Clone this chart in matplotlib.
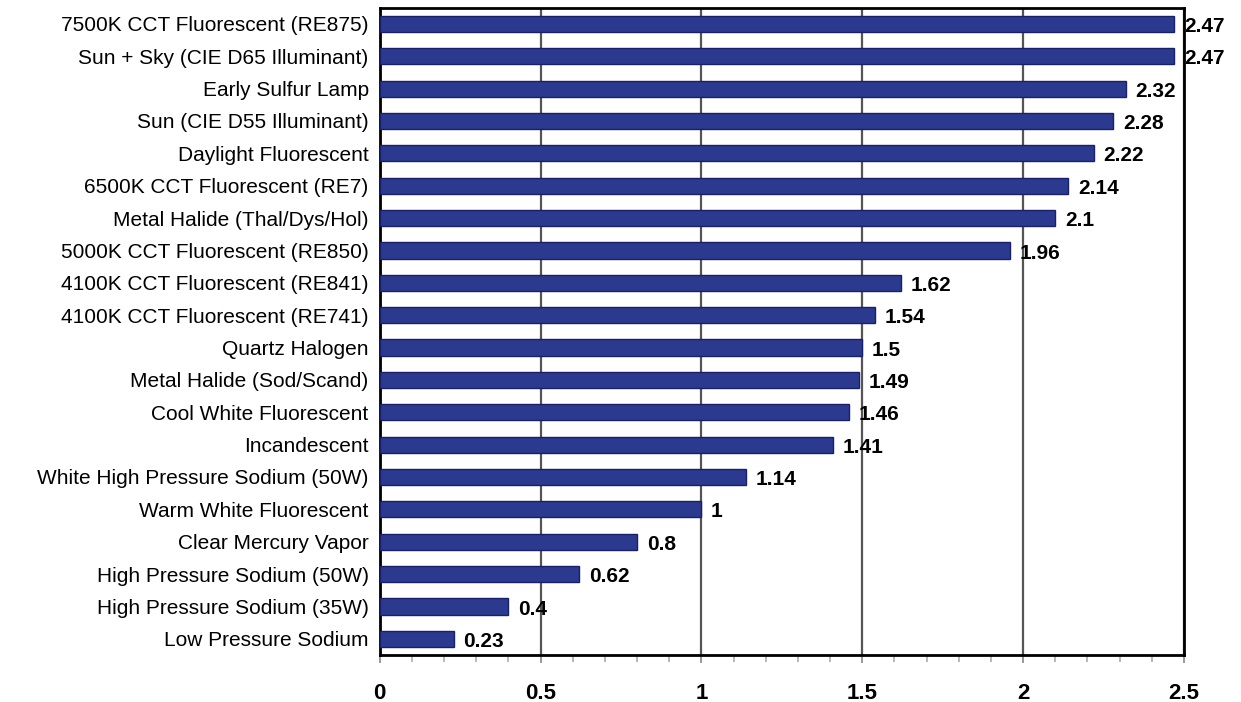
import matplotlib
matplotlib.use('Agg')
import matplotlib.pyplot as plt
from matplotlib.ticker import MultipleLocator

labels = ['7500K CCT Fluorescent (RE875)', 'Sun + Sky (CIE D65 Illuminant)', 'Early Sulfur Lamp',
          'Sun (CIE D55 Illuminant)', 'Daylight Fluorescent', '6500K CCT Fluorescent (RE7)',
          'Metal Halide (Thal/Dys/Hol)', '5000K CCT Fluorescent (RE850)', '4100K CCT Fluorescent (RE841)',
          '4100K CCT Fluorescent (RE741)', 'Quartz Halogen', 'Metal Halide (Sod/Scand)',
          'Cool White Fluorescent', 'Incandescent', 'White High Pressure Sodium (50W)',
          'Warm White Fluorescent', 'Clear Mercury Vapor', 'High Pressure Sodium (50W)',
          'High Pressure Sodium (35W)', 'Low Pressure Sodium']
values = [2.47, 2.47, 2.32, 2.28, 2.22, 2.14, 2.1, 1.96, 1.62, 1.54, 1.5, 1.49, 1.46, 1.41, 1.14,
          1, 0.8, 0.62, 0.4, 0.23]
xticks = [0, 0.5, 1, 1.5, 2, 2.5]
xtick_labels = ['0', '0.5', '1', '1.5', '2', '2.5']

plt.rcParams['font.family'] = ['Liberation Sans', 'DejaVu Sans']

fig = plt.figure(figsize=(12.41, 7.02), dpi=100)
ax = fig.add_axes([0.306, 0.067, 0.648, 0.922])

ypos = list(range(len(values)))
ax.barh(ypos, values, height=0.5, color='#2b3a8f', edgecolor='#18206a', linewidth=1, zorder=3)
for y, v in zip(ypos, values):
    ax.text(v + 0.03, y + 0.08, f'{v:g}', va='center', ha='left', fontsize=15, fontweight='bold', zorder=4)

ax.set_xlim(0, 2.5)
ax.set_ylim(len(values) - 0.5, -0.5)
ax.set_yticks(ypos)
ax.set_yticklabels(labels, fontsize=15, va='center_baseline')
ax.tick_params(axis='y', length=0, pad=8)
ax.xaxis.set_minor_locator(MultipleLocator(0.1))
ax.set_xticks(xticks)
ax.set_xticklabels(xtick_labels, fontweight='bold')
ax.tick_params(axis='x', which='major', length=6, width=1.2, color='#888888', labelsize=16, pad=14)
ax.tick_params(axis='x', which='minor', length=5, width=1.2, color='#aaaaaa')
ax.grid(axis='x', which='major', color='#555555', linewidth=1.6, zorder=1)
for s in ax.spines.values():
    s.set_linewidth(2)
    s.set_color('black')

fig.savefig('out.png', dpi=100)
